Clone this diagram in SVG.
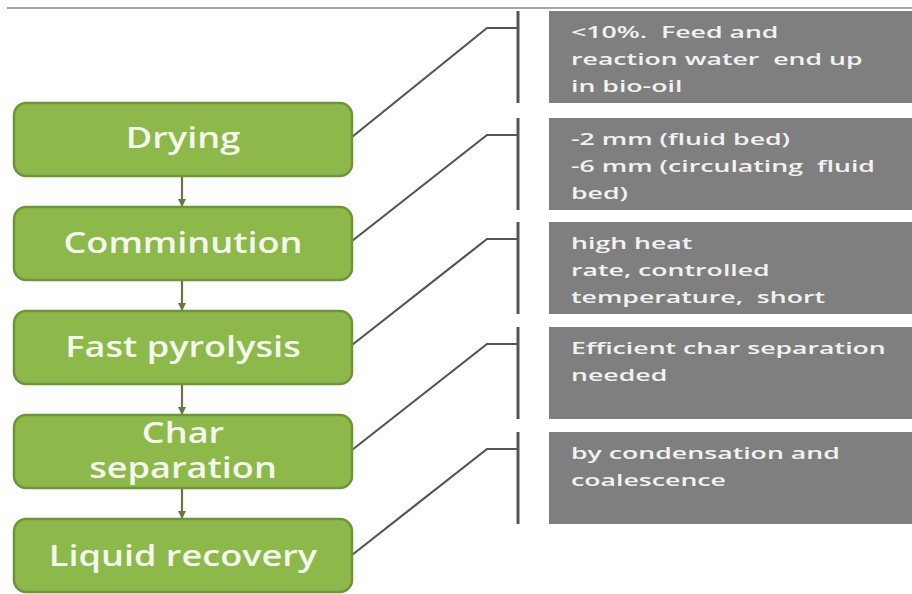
<svg xmlns="http://www.w3.org/2000/svg" width="912" height="594" viewBox="0 0 912 594">
<style>
.box{fill:#8cb94a;stroke:#6e9636;stroke-width:2.5}
.lbl{font-family:"Open Sans","Liberation Sans",sans-serif;font-weight:600;font-size:28px;fill:#f4f7ee;text-anchor:middle}
.note{fill:#7f7f7f}
.nt{font-family:"Open Sans","Liberation Sans",sans-serif;font-weight:600;font-size:17px;fill:#f2f2f2}
.conn{fill:none;stroke:#555;stroke-width:2.2}
.brk{stroke:#555;stroke-width:3}
.flow{stroke:#66783f;stroke-width:2.2}
</style>
<defs>
<marker id="ah" markerWidth="8" markerHeight="8" refX="7" refY="4" orient="auto" markerUnits="userSpaceOnUse">
<path d="M0,0 L8,4 L0,8 Z" fill="#66783f"/>
</marker>
</defs>
<rect width="912" height="594" fill="#ffffff"/>
<line x1="7" y1="8" x2="912" y2="8" stroke="#8a8a8a" stroke-width="1.5"/>

<g id="connectors">
<line class="flow" x1="182" y1="176" x2="182" y2="206" marker-end="url(#ah)"/>
<line class="flow" x1="182" y1="280" x2="182" y2="310" marker-end="url(#ah)"/>
<line class="flow" x1="182" y1="384" x2="182" y2="414" marker-end="url(#ah)"/>
<line class="flow" x1="182" y1="488" x2="182" y2="518" marker-end="url(#ah)"/>
<polyline class="conn" points="352,137 487,28 518,28"/>
<polyline class="conn" points="352,241 487,135 518,135"/>
<polyline class="conn" points="352,345 487,239 518,239"/>
<polyline class="conn" points="352,450 487,344 518,344"/>
<polyline class="conn" points="352,555 487,449 518,449"/>
<line class="brk" x1="518" y1="11" x2="518" y2="103"/>
<line class="brk" x1="518" y1="118" x2="518" y2="210"/>
<line class="brk" x1="518" y1="222" x2="518" y2="314"/>
<line class="brk" x1="518" y1="327" x2="518" y2="419"/>
<line class="brk" x1="518" y1="432" x2="518" y2="524"/>
</g>

<g id="drying">
<rect class="box" x="14" y="103" width="338" height="73" rx="12"/>
<g transform="translate(183,148) scale(1.29,1)"><text class="lbl" x="0" y="0">Drying</text></g>
</g>
<g id="comminution">
<rect class="box" x="14" y="207" width="338" height="73" rx="12"/>
<g transform="translate(183,253) scale(1.29,1)"><text class="lbl" x="0" y="0">Comminution</text></g>
</g>
<g id="fast-pyrolysis">
<rect class="box" x="14" y="311" width="338" height="73" rx="12"/>
<g transform="translate(183,357) scale(1.29,1)"><text class="lbl" x="0" y="0">Fast pyrolysis</text></g>
</g>
<g id="char-separation">
<rect class="box" x="14" y="415" width="338" height="73" rx="12"/>
<g transform="translate(183,443) scale(1.29,1)"><text class="lbl" x="0" y="0">Char</text></g>
<g transform="translate(183,478) scale(1.29,1)"><text class="lbl" x="0" y="0">separation</text></g>
</g>
<g id="liquid-recovery">
<rect class="box" x="14" y="519" width="338" height="73" rx="12"/>
<g transform="translate(183,566) scale(1.29,1)"><text class="lbl" x="0" y="0">Liquid recovery</text></g>
</g>

<g id="note-drying">
<rect class="note" x="549" y="11" width="363" height="92"/>
<g transform="translate(571,0) scale(1.57,1)">
<text class="nt" x="0" y="38" xml:space="preserve">&lt;10%.  Feed and</text>
<text class="nt" x="0" y="65" xml:space="preserve">reaction water  end up</text>
<text class="nt" x="0" y="92">in bio-oil</text>
</g>
</g>
<g id="note-comminution">
<rect class="note" x="549" y="118" width="363" height="92"/>
<g transform="translate(571,0) scale(1.57,1)">
<text class="nt" x="0" y="145">-2 mm (fluid bed)</text>
<text class="nt" x="0" y="172" xml:space="preserve">-6 mm (circulating  fluid</text>
<text class="nt" x="0" y="199">bed)</text>
</g>
</g>
<g id="note-pyrolysis">
<rect class="note" x="549" y="222" width="363" height="92"/>
<g transform="translate(571,0) scale(1.57,1)">
<text class="nt" x="0" y="249">high heat</text>
<text class="nt" x="0" y="276">rate, controlled</text>
<text class="nt" x="0" y="303" xml:space="preserve">temperature,  short</text>
</g>
</g>
<g id="note-char">
<rect class="note" x="549" y="327" width="363" height="92"/>
<g transform="translate(571,0) scale(1.57,1)">
<text class="nt" x="0" y="354">Efficient char separation</text>
<text class="nt" x="0" y="381">needed</text>
</g>
</g>
<g id="note-liquid">
<rect class="note" x="549" y="432" width="363" height="92"/>
<g transform="translate(571,0) scale(1.57,1)">
<text class="nt" x="0" y="459">by condensation and</text>
<text class="nt" x="0" y="486">coalescence</text>
</g>
</g>
</svg>
